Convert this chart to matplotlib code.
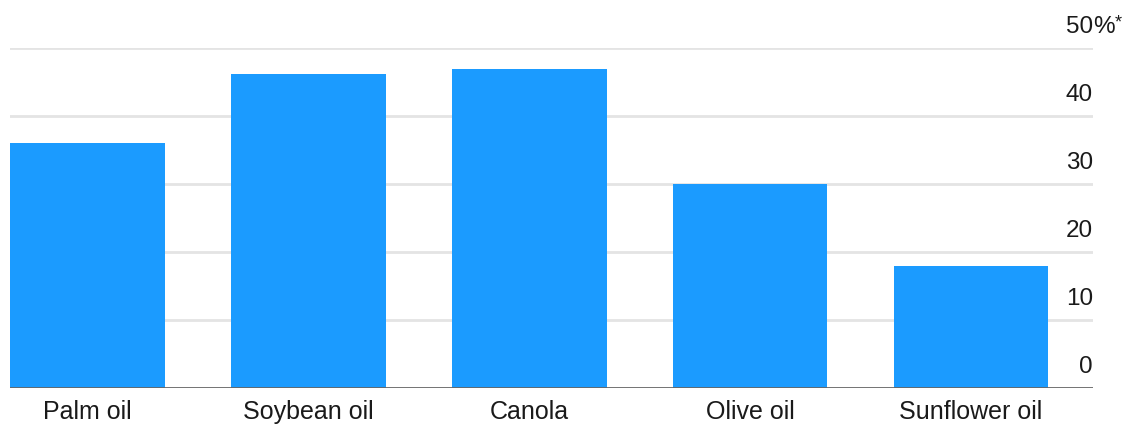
import matplotlib.pyplot as plt
from matplotlib.transforms import offset_copy

oils = ["Palm oil", "Soybean oil", "Canola", "Olive oil", "Sunflower oil"]
shares = [36.0, 46.2, 47.0, 30.0, 17.9]
y_ticks = [0, 10, 20, 30, 40, 50]
y_labels = ["0", "10", "20", "30", "40", "50"]

plt.rcParams['font.family'] = ['Liberation Sans', 'DejaVu Sans']

fig = plt.figure(figsize=(11.28, 4.27), dpi=100)
ax = fig.add_axes([10 / 1128, 1 - 389 / 427, 1083 / 1128, 339.7 / 427])

x = list(range(len(oils)))
ax.bar(x, shares, width=0.7, color='#1b9bff', zorder=3)

# light gridlines, darker baseline
for v in y_ticks[1:]:
    ax.axhline(v, color='#e4e4e4', lw=2, zorder=1)
ax.axhline(0, color='#666666', lw=2, zorder=4)

ax.set_xlim(-0.35, 4.552)
ax.set_ylim(0, 50)
ax.set_yticks([])
ax.set_xticks(x)
ax.set_xticklabels(oils, fontsize=18, color='#1a1a1a')
ax.tick_params(axis='x', length=0, pad=8)
for s in ax.spines.values():
    s.set_visible(False)

# value labels sit above each gridline, right-aligned at the plot edge
trans = offset_copy(ax.get_yaxis_transform(), fig=fig, x=0, y=16, units='dots')
for v, lab in zip(y_ticks, y_labels):
    ax.text(1.0, v, lab, transform=trans, ha='right', va='baseline',
            fontsize=17.5, color='#1a1a1a', clip_on=False)
ax.text(1.0, 50, "%", transform=trans, ha='left', va='baseline',
        fontsize=17.5, color='#1a1a1a', clip_on=False)
star = offset_copy(ax.get_yaxis_transform(), fig=fig, x=22, y=22, units='dots')
ax.text(1.0, 50, "*", transform=star, ha='left', va='baseline',
        fontsize=13, color='#1a1a1a', clip_on=False)

fig.savefig('out.png', dpi=100)
